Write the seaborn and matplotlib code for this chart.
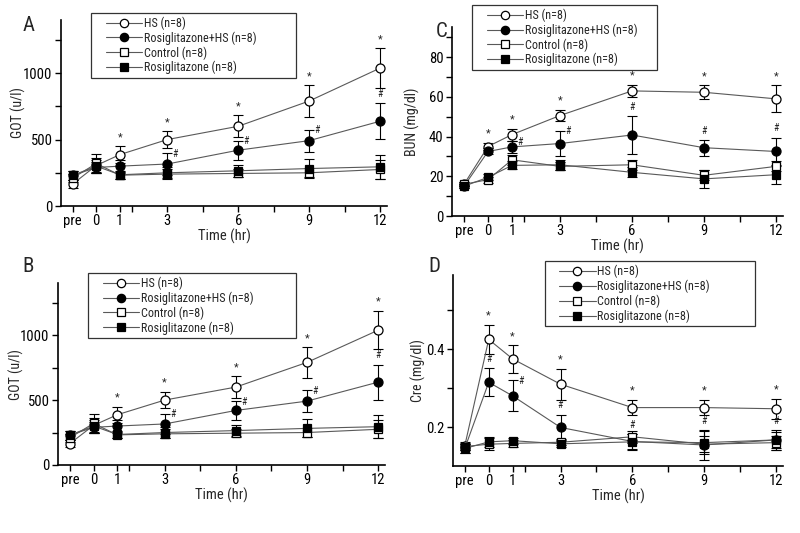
import matplotlib
matplotlib.use('Agg')
from matplotlib import pyplot as plt
from matplotlib import font_manager
from matplotlib.lines import Line2D
from matplotlib.legend_handler import HandlerLine2D
import seaborn as sns

# time points, "pre" sits at -1
times = [-1, 0, 1, 3, 6, 9, 12]
tick_labels = ['pre', '0', '1', '3', '6', '9', '12']
minor_x = [1.5, 4.5, 7.5, 10.5]
groups = ['HS (n=8)', 'Rosiglitazone+HS (n=8)', 'Control (n=8)', 'Rosiglitazone (n=8)']

# GOT (u/l), used for panels A and B
got_hs = [165, 305, 387, 500, 600, 790, 1038]
got_hs_err = [30, 60, 62, 63, 83, 117, 148]
got_rosi_hs = [230, 290, 300, 316, 420, 492, 638]
got_rosi_hs_err = [35, 40, 50, 80, 70, 83, 135]
got_control = [210, 320, 232, 240, 245, 250, 275]
got_control_err = [30, 75, 25, 35, 30, 35, 70]
got_rosi = [230, 300, 235, 250, 265, 282, 295]
got_rosi_err = [35, 45, 30, 40, 45, 70, 90]

# BUN (mg/dl), panel C
bun_hs = [16, 35, 41, 50.6, 63, 62.3, 59]
bun_hs_err = [1, 1.8, 3, 3, 3, 3.5, 6.8]
bun_rosi_hs = [15, 32.5, 34.8, 36.5, 40.8, 34.4, 32.5]
bun_rosi_hs_err = [1, 1.5, 3, 6.5, 9.5, 4, 7]
bun_control = [16, 18.3, 28.3, 25, 25.8, 20.5, 25]
bun_control_err = [1, 1.5, 2.5, 2, 2.5, 2.5, 2.5]
bun_rosi = [15, 19.5, 25.5, 25.8, 22, 18.7, 20.8]
bun_rosi_err = [1, 1.5, 2, 2.5, 2.5, 4.5, 4.5]

# Cre (mg/dl), panel D
cre_hs = [0.152, 0.425, 0.375, 0.31, 0.25, 0.25, 0.247]
cre_hs_err = [0.01, 0.037, 0.035, 0.04, 0.02, 0.02, 0.026]
cre_rosi_hs = [0.145, 0.315, 0.28, 0.199, 0.163, 0.154, 0.167]
cre_rosi_hs_err = [0.012, 0.036, 0.04, 0.033, 0.02, 0.038, 0.025]
cre_control = [0.15, 0.156, 0.158, 0.161, 0.175, 0.156, 0.16]
cre_control_err = [0.01, 0.015, 0.008, 0.008, 0.015, 0.02, 0.018]
cre_rosi = [0.145, 0.162, 0.165, 0.157, 0.162, 0.16, 0.167]
cre_rosi_err = [0.012, 0.012, 0.008, 0.008, 0.02, 0.03, 0.02]

# significance marks: times for '*' (HS) and '#' (Rosi+HS, with placement)
got_star = [1, 3, 6, 9, 12]
got_hash = [(3, 'r'), (6, 'r'), (9, 'r'), (12, 't')]
bun_star = [0, 1, 3, 6, 9, 12]
bun_hash = [(1, 'r'), (3, 'r'), (6, 't'), (9, 't'), (12, 't')]
cre_star = [0, 1, 3, 6, 9, 12]
cre_hash = [(0, 't'), (1, 'r'), (3, 't'), (6, 't'), (9, 't'), (12, 't')]

sns.set_style('white')

# look for a narrow font, the original uses a condensed face
narrow = None
for fam in ['Liberation Sans Narrow', 'Roboto Condensed', 'DejaVu Sans Condensed',
            'Noto Sans', 'Roboto', 'Open Sans', 'DejaVu Sans']:
    try:
        f = font_manager.findfont(font_manager.FontProperties(family=fam, stretch='condensed'),
                                  fallback_to_default=False)
    except Exception:
        continue
    if 'arrow' in f or 'ondensed' in f:
        narrow = fam
        break
if narrow:
    plt.rcParams['font.family'] = [narrow, 'DejaVu Sans']
    plt.rcParams['font.stretch'] = 'condensed'
    fs = 1.0
else:
    plt.rcParams['font.family'] = ['DejaVu Sans']
    fs = 0.85

styles = [('o', 'white'), ('o', 'black'), ('s', 'white'), ('s', 'black')]
line_col = '0.35'


def panel(ax, series, ylim, yticks, yminor, ylabel, label_x, star, hashes, letter, letter_xy):
    for (vals, errs), (mk, fc) in zip(series, styles):
        ax.errorbar(times, vals, yerr=errs, fmt='none', ecolor='black',
                    elinewidth=0.8, capsize=3.5, capthick=0.8, zorder=1.5)
        sns.lineplot(x=times, y=vals, ax=ax, color=line_col, linewidth=0.8,
                     marker=mk, markersize=6.5 if mk == 'o' else 5.8, markerfacecolor=fc,
                     markeredgecolor='black', markeredgewidth=0.9, zorder=3)
    hs, hs_err = series[0]
    rh, rh_err = series[1]
    for t in star:
        i = times.index(t)
        ax.annotate('*', (t, hs[i] + hs_err[i]), xytext=(0, 3), textcoords='offset points',
                    ha='center', va='bottom', fontsize=8)
    for t, where in hashes:
        i = times.index(t)
        if where == 'r':
            ax.annotate('#', (t, rh[i] + rh_err[i]), xytext=(4, -4), textcoords='offset points',
                        ha='left', va='bottom', fontsize=7)
        else:
            ax.annotate('#', (t, rh[i] + rh_err[i]), xytext=(0, 3), textcoords='offset points',
                        ha='center', va='bottom', fontsize=7)
    ax.set_xlim(-1.5, 12.3)
    ax.set_ylim(*ylim)
    ax.set_xticks(times)
    ax.set_xticklabels(tick_labels)
    ax.set_xticks(minor_x, minor=True)
    ax.set_yticks(yticks)
    ax.set_yticks(yminor, minor=True)
    for s in ['top', 'right']:
        ax.spines[s].set_visible(False)
    for s in ['left', 'bottom']:
        ax.spines[s].set_linewidth(1.2)
        ax.spines[s].set_color('black')
    ax.tick_params(which='both', direction='out', length=4, width=1, colors='black',
                   left=True, bottom=True, labelsize=10.5 * fs, pad=2)
    ax.set_xlabel('Time (hr)', fontsize=10.5 * fs, labelpad=0)
    ax.set_ylabel(ylabel, fontsize=10 * fs)
    ax.yaxis.set_label_coords(label_x, 0.5)
    fig.text(letter_xy[0], letter_xy[1], letter, fontsize=15, ha='left', va='center')


fig = plt.figure(figsize=(8, 5.33), dpi=100)
axA = fig.add_axes([0.076, 0.6135, 0.408, 0.349])
axB = fig.add_axes([0.0725, 0.1276, 0.409, 0.341])
axC = fig.add_axes([0.565, 0.5947, 0.414, 0.354])
axD = fig.add_axes([0.566, 0.1257, 0.413, 0.358])

got_series = [(got_hs, got_hs_err), (got_rosi_hs, got_rosi_hs_err),
              (got_control, got_control_err), (got_rosi, got_rosi_err)]
panel(axA, got_series, (0, 1400), [0, 500, 1000], [250, 750, 1250], 'GOT (u/l)', -0.107,
      got_star, got_hash, 'A', (0.028, 0.952))
panel(axB, got_series, (0, 1400), [0, 500, 1000], [250, 750, 1250], 'GOT (u/l)', -0.104,
      got_star, got_hash, 'B', (0.028, 0.5))
panel(axC, [(bun_hs, bun_hs_err), (bun_rosi_hs, bun_rosi_hs_err),
            (bun_control, bun_control_err), (bun_rosi, bun_rosi_err)],
      (0, 95), [0, 20, 40, 60, 80], [10, 30, 50, 70, 90], 'BUN (mg/dl)', -0.097,
      bun_star, bun_hash, 'C', (0.545, 0.94))
panel(axD, [(cre_hs, cre_hs_err), (cre_rosi_hs, cre_rosi_hs_err),
            (cre_control, cre_control_err), (cre_rosi, cre_rosi_err)],
      (0.1, 0.59), [0.2, 0.4], [0.3, 0.5], 'Cre (mg/dl)', -0.08,
      cre_star, cre_hash, 'D', (0.535, 0.5))

handles = [Line2D([0], [0], color=line_col, lw=0.8, marker=mk, markersize=6 if mk == 'o' else 5.5,
                  markerfacecolor=fc, markeredgecolor='black', markeredgewidth=0.9)
           for mk, fc in styles]
legend_boxes = [(0.114, 0.872, 0.256, 0.104), (0.11, 0.385, 0.26, 0.103),
                (0.59, 0.869, 0.231, 0.122), (0.681, 0.402, 0.263, 0.108)]
for box in legend_boxes:
    leg = fig.legend(handles, groups, loc='upper left', bbox_to_anchor=box, mode='expand',
                     fontsize=8.7 * fs, handlelength=3.9, handletextpad=0.15, labelspacing=0.12,
                     borderpad=0.3, borderaxespad=0, frameon=True, fancybox=False,
                     handler_map={Line2D: HandlerLine2D(xpad=0.9)})
    leg.get_frame().set_edgecolor('black')
    leg.get_frame().set_linewidth(0.9)

plt.savefig('out.png', dpi=100)
